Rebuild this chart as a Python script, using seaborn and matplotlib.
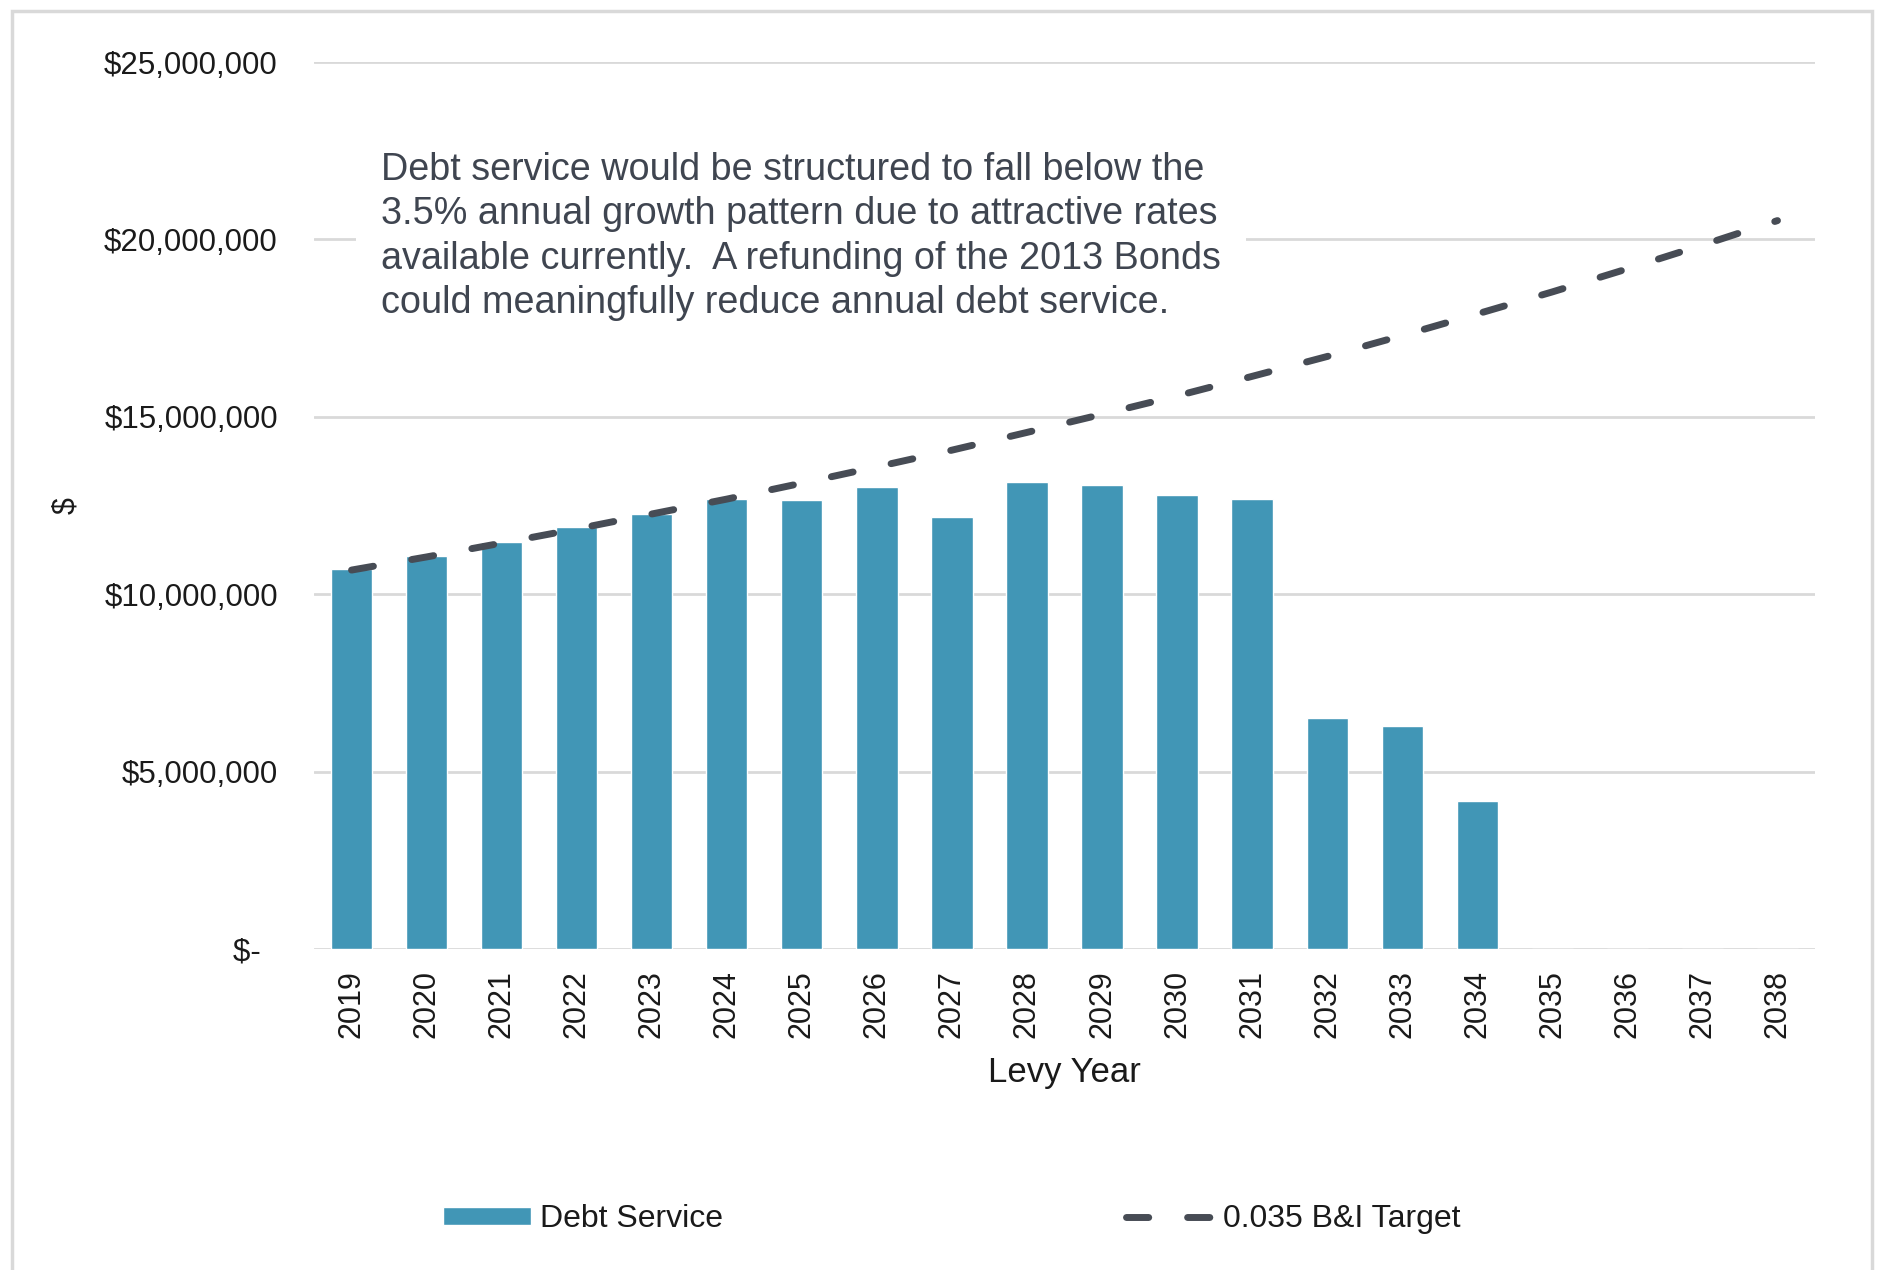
import numpy as np
import pandas as pd
import seaborn as sns
import matplotlib
matplotlib.use("Agg")
import matplotlib.pyplot as plt
from matplotlib.patches import Rectangle
from matplotlib.ticker import FuncFormatter

# ---- data ----
years = [str(y) for y in range(2019, 2039)]
debt_service = [10.70, 11.08, 11.46, 11.88, 12.26, 12.69, 12.65, 13.02, 12.17, 13.17,
                13.07, 12.79, 12.69, 6.52, 6.28, 4.16, 0, 0, 0, 0]  # $ millions
target = [10.68, 11.05, 11.44, 11.84, 12.26, 12.68, 13.13, 13.59, 14.06, 14.56,
          15.07, 15.59, 16.14, 16.70, 17.29, 17.90, 18.52, 19.17, 19.84, 20.53]  # $ millions
y_ticks = [0, 5_000_000, 10_000_000, 15_000_000, 20_000_000, 25_000_000]
annotation = ("Debt service would be structured to fall below the\n"
              "3.5% annual growth pattern due to attractive rates\n"
              "available currently.  A refunding of the 2013 Bonds\n"
              "could meaningfully reduce annual debt service.")
bar_label = "Debt Service"
line_label = "0.035 B&I Target"

df = pd.DataFrame({
    "year": years,
    "pos": np.arange(len(years)),
    "debt": np.array(debt_service) * 1e6,
    "target": np.array(target) * 1e6,
})

sns.set_theme(style="white")
plt.rcParams["font.family"] = ["Liberation Sans", "DejaVu Sans"]

W, H = 1879, 1270
fig = plt.figure(figsize=(W / 100, H / 100), dpi=100)
ax = fig.add_axes([314 / W, 1 - 949 / H, (1815 - 314) / W, (949 - 62) / H])

bar_color = "#4196B6"
line_color = "#474C55"
grid_color = "#D9D9D9"

sns.barplot(data=df, x="year", y="debt", color=bar_color, width=0.55,
            saturation=1, ax=ax, label=bar_label, zorder=2)
sns.lineplot(data=df, x="pos", y="target", color=line_color, lw=5,
             ax=ax, label=line_label, zorder=3)
ln = ax.lines[-1]
ln.set_linestyle((0, (3.2, 5.6)))
ln.set_dash_capstyle("round")
ln.set_solid_capstyle("round")

ax.set_xlim(-0.5, len(years) - 0.5)
ax.set_ylim(0, 25_000_000)
ax.set_yticks(y_ticks)
ax.yaxis.set_major_formatter(FuncFormatter(
    lambda v, p: "$-  " if v == 0 else f"${v:,.0f}"))
ax.grid(axis="y", color=grid_color, lw=2, zorder=0)
ax.set_axisbelow(True)
for s in ax.spines.values():
    s.set_visible(False)
ax.tick_params(axis="y", length=0, pad=26, labelsize=22.5, labelcolor="#1A1A1A")
ax.tick_params(axis="x", length=0, pad=15, labelsize=22, labelcolor="#1A1A1A",
               labelrotation=90)

ax.set_xlabel("Levy Year", fontsize=25, color="#1A1A1A")
ax.xaxis.set_label_coords(0.5, -0.139)
ax.xaxis.label.set_va("center")
ax.set_ylabel("$", fontsize=22, color="#1A1A1A", rotation=90)
ax.yaxis.set_label_coords((66 - 314) / (1815 - 314), 0.5)
ax.yaxis.label.set_va("center")

if ax.legend_:
    ax.legend_.remove()
handles, labels = ax.get_legend_handles_labels()
order = [labels.index(bar_label), labels.index(line_label)]
leg = fig.legend([handles[i] for i in order], [labels[i] for i in order],
                 loc="center", bbox_to_anchor=(952 / W, 1 - 1219 / H),
                 ncol=2, frameon=False, fontsize=23, handlelength=2.75,
                 handleheight=0.5, handletextpad=0.3, columnspacing=12.6)
for t in leg.get_texts():
    t.set_color("#1A1A1A")

fig.text(381 / W, 1 - 152 / H, annotation, ha="left", va="top", fontsize=27.2,
         color="#3F4550", linespacing=1.3,
         bbox=dict(facecolor="white", edgecolor="none", pad=18), zorder=5)

fig.patches.append(Rectangle((12 / W, -0.02), (1872 - 12) / W, 1.02 - 11 / H,
                             transform=fig.transFigure, fill=False,
                             edgecolor=grid_color, lw=2.5))

fig.savefig("out.png", dpi=100, facecolor="white")
